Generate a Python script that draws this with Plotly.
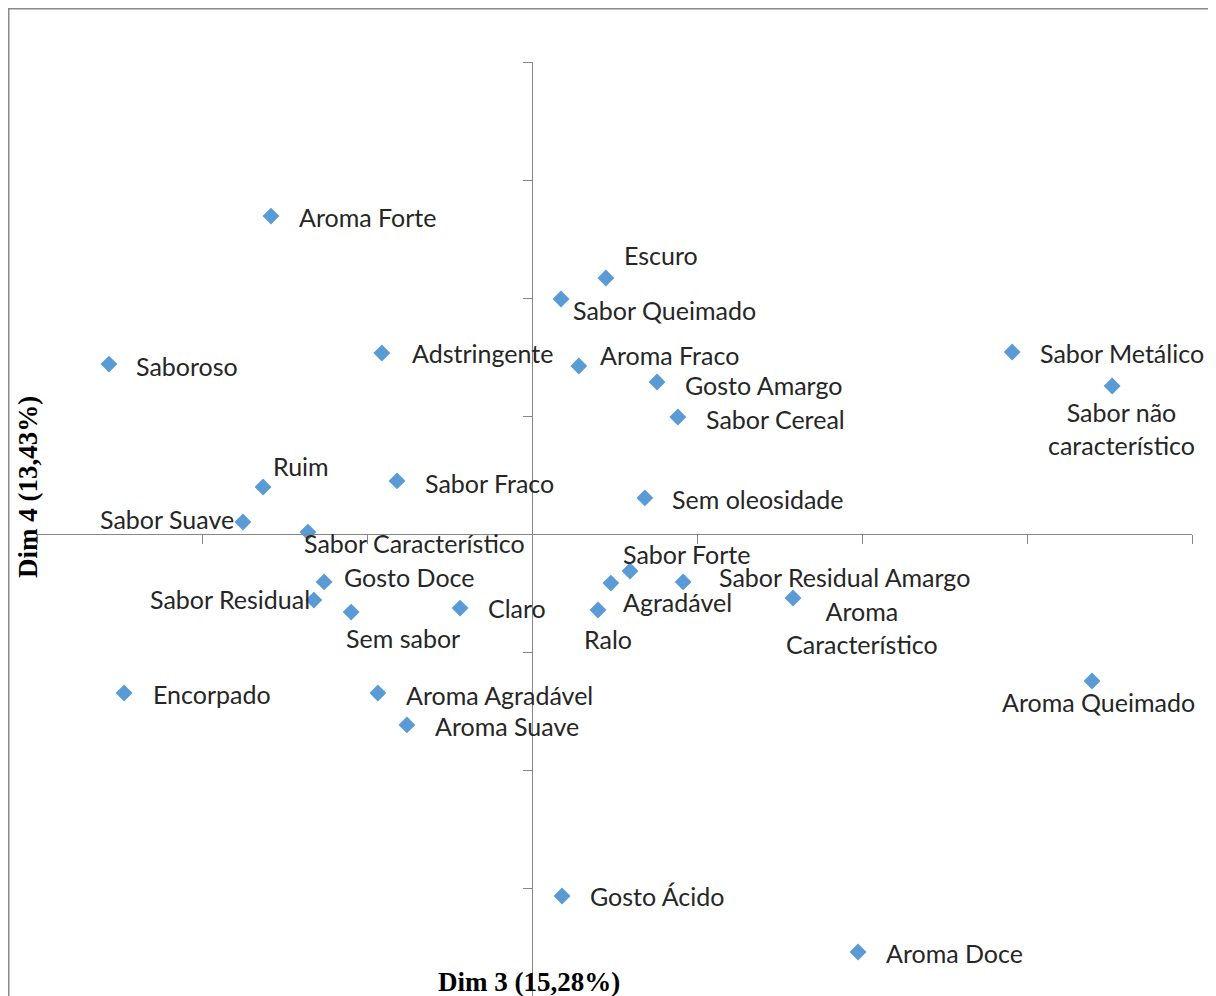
import plotly.graph_objects as go

# ---- data ----
labels = [
    "Aroma Forte", "Escuro", "Sabor Queimado", "Adstringente", "Saboroso",
    "Aroma Fraco", "Gosto Amargo", "Sabor Metálico", "Sabor não<br>característico",
    "Sabor Cereal", "Ruim", "Sabor Fraco", "Sem oleosidade", "Sabor Suave",
    "Sabor Característico", "Gosto Doce", "Sabor Residual", "Sem sabor", "Claro",
    "Sabor Forte", "Agradável", "Ralo", "Sabor Residual Amargo",
    "Aroma<br>Característico", "Encorpado", "Aroma Agradável", "Aroma Suave",
    "Aroma Queimado", "Gosto Ácido", "Aroma Doce",
]
dim3 = [
    -0.791, 0.224, 0.088, -0.455, -1.282,
    0.142, 0.379, 1.455, 1.758,
    0.442, -0.815, -0.409, 0.342, -0.876,
    -0.679, -0.630, -0.661, -0.548, -0.218,
    0.297, 0.239, 0.200, 0.458,
    0.791, -1.236, -0.467, -0.379,
    1.697, 0.091, 0.988,
]
dim4 = [
    1.347, 1.085, 0.996, 0.767, 0.720,
    0.712, 0.644, 0.771, 0.627,
    0.496, 0.199, 0.225, 0.153, 0.051,
    0.008, -0.203, -0.280, -0.331, -0.314,
    -0.157, -0.208, -0.322, -0.203,
    -0.271, -0.674, -0.674, -0.809,
    -0.623, -1.534, -1.771,
]
x_title = "Dim 3 (15,28%)"
y_title = "Dim 4 (13,43%)"

# ---- label placement (style, not data): xanchor, dx px, dy px (screen down) ----
label_pos = [
    ("left", 26, 1), ("left", 16, -23), ("left", 10, 11), ("left", 28, 0), ("left", 25, 2),
    ("left", 19, -11), ("left", 26, 3), ("left", 26, 1), ("center", 9, 42),
    ("left", 26, 2), ("left", 8, -21), ("left", 26, 2), ("left", 25, 1), ("right", -7, -3),
    ("left", -6, 11), ("left", 18, -5), ("right", -2, -1), ("left", -7, 26), ("left", 26, 0),
    ("left", -9, -17), ("left", 10, 19), ("left", -16, 29), ("left", 34, -5),
    ("center", 69, 30), ("left", 27, 1), ("left", 26, 2), ("left", 26, 1),
    ("center", 6, 21), ("left", 26, 0), ("left", 26, 1),
]

# the page body adds an 8px margin; work in page pixels and shift
OFF = 8
PAGE_W, PAGE_H = 1216, 996
W, H = PAGE_W - OFF, PAGE_H - OFF
plot_left_pg, plot_right_pg, plot_top_pg = 37, 1192, 62
L = plot_left_pg - OFF
R = W - (plot_right_pg - OFF)
T = plot_top_pg - OFF
B = 0
x_range = [-1.5, 2.0]
y_top = 2.0
plot_h = H - T - B
plot_w = W - L - R
px_per_unit_y = 236.0
y_range = [y_top - plot_h / px_per_unit_y, y_top]

axis_color = "#868686"
marker_color = "#5B9BD5"
text_color = "#262626"
label_font = dict(family="Lato", size=25, color=text_color)

fig = go.Figure()
fig.add_trace(go.Scatter(
    x=dim3, y=dim4, mode="markers",
    marker=dict(symbol="diamond", size=13, color=marker_color, line=dict(width=0)),
    hoverinfo="text", hovertext=labels, showlegend=False,
))

annotations = []
for lab, xv, yv, (anc, dx, dy) in zip(labels, dim3, dim4, label_pos):
    annotations.append(dict(
        x=xv, y=yv, xref="x", yref="y", text=lab, showarrow=False,
        xanchor=anc, yanchor="middle", xshift=dx, yshift=-dy,
        font=label_font, align="center",
    ))

def px_to_paper_x(px_page):
    return (px_page - OFF - L) / plot_w
def px_to_paper_y(py_page):
    return (H - B - (py_page - OFF)) / plot_h

title_font = dict(family="Liberation Serif", size=27, color="#000000")
annotations.append(dict(
    x=px_to_paper_x(529), y=px_to_paper_y(982), xref="paper", yref="paper",
    text="<b>" + x_title + "</b>", showarrow=False, xanchor="center", yanchor="middle",
    font=title_font, height=28,
))
annotations.append(dict(
    x=px_to_paper_x(28), y=px_to_paper_y(487), xref="paper", yref="paper",
    text="<b>" + y_title + "</b>", showarrow=False, xanchor="center", yanchor="middle",
    textangle=-90, font=title_font,
))

x_zero_frac = (0 - x_range[0]) / (x_range[1] - x_range[0])
y_zero_frac = (0 - y_range[0]) / (y_range[1] - y_range[0])

axis_common = dict(
    showgrid=False, zeroline=False, showticklabels=False,
    showline=True, linecolor=axis_color, linewidth=1,
    ticks="outside", ticklen=9, tickwidth=1, tickcolor=axis_color,
    dtick=0.5, tick0=0, anchor="free",
)

fig.update_layout(
    width=W, height=H,
    margin=dict(l=L, r=R, t=T, b=B, pad=0),
    paper_bgcolor="white", plot_bgcolor="white",
    xaxis=dict(range=x_range, position=y_zero_frac, **axis_common),
    yaxis=dict(range=y_range, position=x_zero_frac, **axis_common),
    annotations=annotations,
    shapes=[dict(
        type="rect", xref="paper", yref="paper",
        x0=px_to_paper_x(8.5), x1=px_to_paper_x(1240),
        y0=px_to_paper_y(1030), y1=px_to_paper_y(8.5),
        line=dict(color="#8a8a8a", width=2), fillcolor="rgba(0,0,0,0)", layer="below",
    )],
)

fig.write_html("out.html")
